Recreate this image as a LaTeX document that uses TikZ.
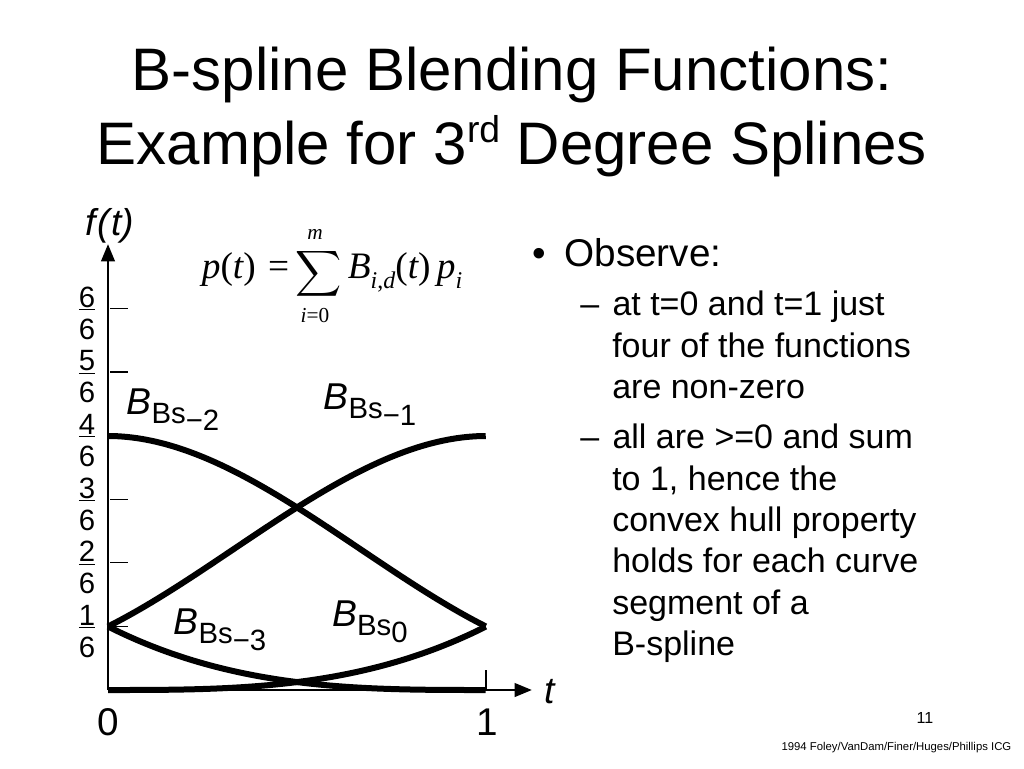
\documentclass[tikz,border=0pt]{standalone}
\usepackage{fontspec}
\usepackage{graphicx}
\setmainfont{Liberation Sans}
\newfontfamily\serifm{Liberation Serif}
\usetikzlibrary{arrows.meta}
\newcommand{\blab}[2]{{\itshape B}\raisebox{-0.45ex}{\fontsize{22}{22}\selectfont Bs\raisebox{-0.45ex}{#2}}}
\begin{document}
\begin{tikzpicture}[x=0.75pt,y=-0.75pt,
  curve/.style={line width=4.5pt},
  axis/.style={line width=2.2pt,-{Triangle[length=13pt,width=10pt]}},
  frac/.style={font=\fontsize{22}{23}\selectfont,align=center,inner sep=0pt},
  blabel/.style={font=\fontsize{28}{30}\selectfont,inner sep=0pt}]
\useasboundingbox (0,0) rectangle (1024,768);
\node[font=\fontsize{45}{56}\selectfont,align=center] (title) at (512,112) {B-spline Blending Functions:\\Example for 3\raisebox{0.7ex}{\fontsize{28}{28}\selectfont rd} Degree Splines};
% axes
\coordinate (o) at (108,690);
\coordinate (yt) at (108,244);
\coordinate (xt) at (532,690);
\draw[axis] (o) -- (yt);
\draw[axis] (o) -- (xt);
\node[font=\fontsize{28}{30}\selectfont\itshape] (ft) at (110,226) {f\kern1pt(\kern1pt t)};
\node[font=\fontsize{28}{30}\selectfont\itshape] (tl) at (550,692) {t};
\node[font=\fontsize{29}{30}\selectfont] (zero) at (108,722) {0};
\node[font=\fontsize{29}{30}\selectfont] (one) at (487,722) {1};
\coordinate (t1a) at (486,690); \coordinate (t1b) at (486,670);
\draw[line width=1pt] (t1a) -- (t1b);
\foreach \k/\n in {1/1,2/2,3/3,4/4,5/5,6/6}{
  \coordinate (tk\k) at (110,{690-63.6*\k});
  \coordinate (tke\k) at (128,{690-63.6*\k});
  \draw[line width=1pt] (tk\k) -- (tke\k);
  \node[frac] (fr\k) at (87,{690-63.6*\k+5}) {\underline{\n}\\[1pt]6};
}
% curves
\draw[curve] plot[domain=0:1,samples=80] ({108+378*\x},{690-381*((1-\x)^3)/6});
\draw[curve] plot[domain=0:1,samples=80] ({108+378*\x},{690-381*(3*\x^3-6*\x^2+4)/6});
\draw[curve] plot[domain=0:1,samples=80] ({108+378*\x},{690-381*(-3*\x^3+3*\x^2+3*\x+1)/6});
\draw[curve] plot[domain=0:1,samples=80] ({108+378*\x},{690-381*(\x^3)/6});
\node[blabel] (b2) at (173,410) {\blab{B}{−2}};
\node[blabel] (b1) at (370,405) {\blab{B}{−1}};
\node[blabel] (b3) at (220,630) {\blab{B}{−3}};
\node[blabel] (b0) at (370,622) {\blab{B}{0}};
% formula
\node[font=\fontsize{28}{30}\selectfont\serifm,inner sep=0pt] (form) at (332,274) {\itshape p\upshape(\itshape t\upshape)\,\,=\,\raisebox{-0.9ex}{\scalebox{2.4}{$\displaystyle\sum$}}\,\itshape B\raisebox{-0.6ex}{\fontsize{18}{18}\selectfont i\upshape,\itshape d}\upshape(\itshape t\upshape)\,\itshape p\raisebox{-0.6ex}{\fontsize{18}{18}\selectfont i}};
\node[font=\fontsize{16}{16}\selectfont\serifm\itshape,inner sep=0pt] (mm) at (315,234) {m};
\node[font=\fontsize{16}{16}\selectfont\serifm,inner sep=0pt] (ie) at (315,316) {\itshape i\upshape=0};
% bullets
\node[anchor=north west,font=\fontsize{29}{34}\selectfont,inner sep=0pt] (obs) at (532,238) {•\hspace{14pt}Observe:};
\node[anchor=north west,font=\fontsize{25.5}{31}\selectfont,align=left,inner sep=0pt] (s1) at (580,291) {–\hspace{10pt}at t=0 and t=1 just\\\hspace{24pt}four of the functions\\\hspace{24pt}are non-zero};
\node[anchor=north west,font=\fontsize{25.5}{31}\selectfont,align=left,inner sep=0pt] (s2) at (580,424) {–\hspace{10pt}all are >=0 and sum\\\hspace{24pt}to 1, hence the\\\hspace{24pt}convex hull property\\\hspace{24pt}holds for each curve\\\hspace{24pt}segment of a\\\hspace{24pt}B-spline};
\node[font=\fontsize{12}{12}\selectfont] (pg) at (925,718) {11};
\node[anchor=east,font=\fontsize{8.5}{9}\selectfont] (cr) at (1016,748) {1994 Foley/VanDam/Finer/Huges/Phillips ICG};
\end{tikzpicture}
\end{document}
